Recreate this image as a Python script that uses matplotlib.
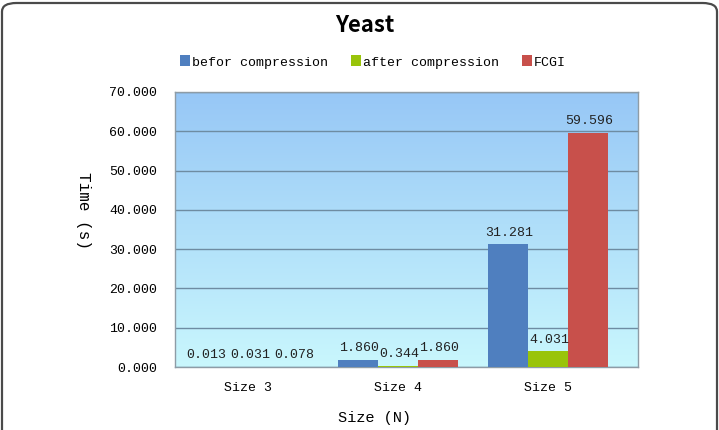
import numpy as np
import matplotlib

matplotlib.use("Agg")

import matplotlib.pyplot as plt
from matplotlib.patches import FancyBboxPatch
from matplotlib.colors import LinearSegmentedColormap

categories = ["Size 3", "Size 4", "Size 5"]
series_names = ["befor compression", "after compression", "FCGI"]
before_values = [0.013, 1.860, 31.281]
after_values = [0.031, 0.344, 4.031]
fcgi_values = [0.078, 1.860, 59.596]
y_ticks = [0, 10, 20, 30, 40, 50, 60, 70]

COLORS = ["#4F7FBF", "#99C40A", "#C8504B"]
MONO = ["Liberation Mono", "DejaVu Sans Mono"]
W, H = 719, 430
# sideways nudge (points) of the crowded labels in the first group, per series
LABEL_NUDGE = [-1.0, 1.5, 4.5]

fig = plt.figure(figsize=(W / 100, H / 100), dpi=100)

# rounded outer frame (bottom runs off the image)
frame = FancyBboxPatch(
    (2 / W, -0.2), (W - 4) / W, 1.2 - 3 / H,
    boxstyle="round,pad=0,rounding_size=0.02",
    transform=fig.transFigure, facecolor="white", edgecolor="#4a4a4a",
    linewidth=1.6, zorder=-5,
)
fig.patches.append(frame)

left, right, top, bottom = 175, 638, 92, 367
ax = fig.add_axes([left / W, (H - bottom) / H, (right - left) / W, (bottom - top) / H])
ax.set_facecolor("none")
ax.set_zorder(2)

# vertical gradient background
cmap = LinearSegmentedColormap.from_list("bg", ["#C9F7FD", "#97C7F6"])
grad = np.linspace(0, 1, 256).reshape(-1, 1)
ax.imshow(grad, cmap=cmap, extent=[0, 1, 0, 1], origin="lower",
          transform=ax.transAxes, aspect="auto", zorder=0)

x = np.arange(len(categories))
bw = 0.267
for i, (vals, col, name) in enumerate(zip([before_values, after_values, fcgi_values], COLORS, series_names)):
    pos = x + (i - 1) * bw
    ax.bar(pos, vals, width=bw, color=col, label=name, zorder=3)
    for j, (p, v) in enumerate(zip(pos, vals)):
        dx = LABEL_NUDGE[i] if j == 0 else 1.0
        ax.annotate(f"{v:.3f}", (p, v), xytext=(dx, 4), textcoords="offset points",
                    ha="center", va="bottom", family=MONO, fontsize=9.5,
                    color="#222222", zorder=4)

ax.set_xlim(-0.487, 2.6)
ax.set_ylim(0, 70)
ax.set_yticks(y_ticks)
ax.set_yticklabels([f"{t:.3f}" for t in y_ticks], family=MONO, fontsize=9.5)
ax.set_xticks(x)
ax.set_xticklabels(categories, family=MONO, fontsize=9.5)
ax.tick_params(axis="y", length=0, pad=13)
ax.tick_params(axis="x", length=0, pad=11)
ax.grid(axis="y", color="#6E8CA2", linewidth=1.0, zorder=1)
for s in ax.spines.values():
    s.set_color("#8E9CA6")
    s.set_linewidth(1.0)

fig.text(365 / W, 1 - 25 / H, "Yeast", ha="center", va="center",
         fontsize=16, fontweight="bold", family=["Noto Sans CJK SC", "DejaVu Sans"])
fig.text(84 / W, 1 - 210 / H, "Time (s)", ha="center", va="center",
         rotation=270, family=MONO, fontsize=11.5)
fig.text(375 / W, 1 - 418 / H, "Size (N)", ha="center", va="center",
         family=MONO, fontsize=11)

handles, labels = ax.get_legend_handles_labels()
fig.legend(handles, labels, loc="center", bbox_to_anchor=(373 / W, 1 - 62 / H), ncol=3,
           frameon=False, prop={"family": MONO, "size": 9.5},
           handlelength=0.7, handleheight=0.9, handletextpad=0.15,
           columnspacing=1.8)

fig.savefig("out.png", dpi=100)
